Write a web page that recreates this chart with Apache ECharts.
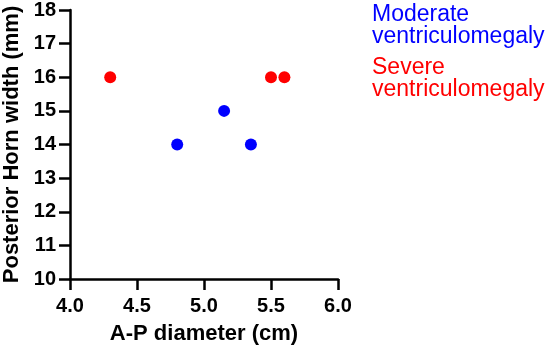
<!DOCTYPE html>
<html>
<head>
<meta charset="utf-8">
<script src="https://cdn.jsdelivr.net/npm/echarts@6/dist/echarts.min.js"></script>
<style>
  html, body { margin: 0; padding: 0; background: #fff; }
  #chart { width: 546px; height: 353px; }
</style>
</head>
<body>
<div id="chart"></div>
<script>
// 数据
const seriesNames = ['Moderate ventriculomegaly', 'Severe ventriculomegaly']
const moderateX = [4.8, 5.15, 5.35]
const moderateY = [14, 15, 14]
const severeX = [4.3, 5.5, 5.6]
const severeY = [16, 16, 16]
const xTicks = [4.0, 4.5, 5.0, 5.5, 6.0]
const yTicks = [10, 11, 12, 13, 14, 15, 16, 17, 18]

const toPoints = (xs, ys) => xs.map((x, i) => [x, ys[i]])

const fontFamily = '"Liberation Sans", Arial, sans-serif'
const axisStyle = {
  axisLine: { show: true, onZero: false, lineStyle: { color: '#000', width: 2.5 } },
  axisTick: { show: true, length: 11, lineStyle: { color: '#000', width: 2.5 } },
  splitLine: { show: false }
}

const myChart = echarts.init(document.getElementById('chart'))
myChart.setOption({
  animation: false,
  grid: { left: 68, right: 208, top: 8, bottom: 74 },
  legend: {
    orient: 'vertical',
    left: 362,
    top: -2,
    icon: 'none',
    itemWidth: 0,
    itemGap: 8,
    selectedMode: false,
    formatter: name => name.replace(' ', '\n'),
    textStyle: { fontFamily: fontFamily, fontSize: 23, lineHeight: 22 },
    data: [
      { name: seriesNames[0], textStyle: { color: '#0000ff' } },
      { name: seriesNames[1], textStyle: { color: '#ff0000' } }
    ]
  },
  xAxis: {
    type: 'value',
    min: xTicks[0],
    max: xTicks[xTicks.length - 1],
    interval: 0.5,
    name: 'A-P diameter (cm)',
    nameLocation: 'middle',
    nameGap: 44,
    nameTextStyle: { color: '#000', fontSize: 22, fontWeight: 'bold', fontFamily: fontFamily },
    axisLabel: {
      color: '#000', fontSize: 20, fontWeight: 'bold', fontFamily: fontFamily, margin: 17,
      formatter: v => v.toFixed(1)
    },
    ...axisStyle
  },
  yAxis: {
    type: 'value',
    min: yTicks[0],
    max: yTicks[yTicks.length - 1],
    interval: 1,
    name: 'Posterior Horn width (mm)',
    nameLocation: 'middle',
    nameGap: 47,
    nameTextStyle: { color: '#000', fontSize: 22, fontWeight: 'bold', fontFamily: fontFamily },
    axisLabel: { color: '#000', fontSize: 20, fontWeight: 'bold', fontFamily: fontFamily, margin: 14 },
    ...axisStyle
  },
  series: [
    {
      name: seriesNames[0],
      type: 'scatter',
      symbolSize: 12,
      itemStyle: { color: '#0000ff', opacity: 1 },
      data: toPoints(moderateX, moderateY)
    },
    {
      name: seriesNames[1],
      type: 'scatter',
      symbolSize: 12,
      itemStyle: { color: '#ff0000', opacity: 1 },
      data: toPoints(severeX, severeY)
    }
  ]
})
</script>
</body>
</html>
